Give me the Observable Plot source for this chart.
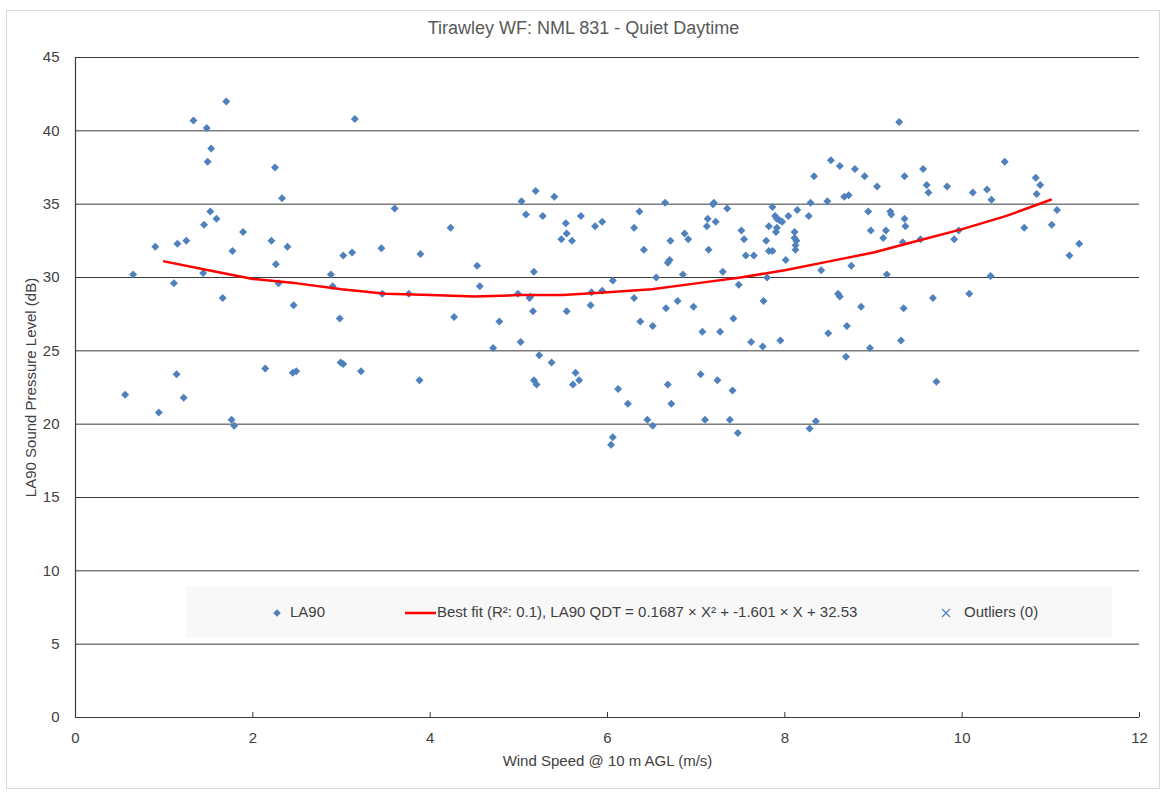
<!DOCTYPE html>
<html>
<head>
<meta charset="utf-8">
<script src="https://cdn.jsdelivr.net/npm/d3@7"></script>
<script src="https://cdn.jsdelivr.net/npm/@observablehq/plot@0.6"></script>
<style>
  body { margin: 0; background: white; font-family: "Liberation Sans", Arial, sans-serif; }
  #wrap { position: relative; width: 1167px; height: 794px; }
  #border { position: absolute; left: 6px; top: 10px; width: 1154px; height: 779px; border: 1px solid #d9d9d9; box-sizing: border-box; pointer-events: none; }
  #title { position: absolute; left: 0; top: 0; width: 1167px; height: 45px; text-align: center; line-height: 56px; font-size: 18px; color: #595959; }
  #chart { position: absolute; left: 0; top: 45px; }
  #legend { position: absolute; left: 186px; top: 586px; width: 926px; height: 52px; background: #f8f8f8; font-size: 15px; color: #404040; }
  .item { position: absolute; top: 0; height: 52px; line-height: 52px; white-space: nowrap; }
  .item svg { vertical-align: middle; }
</style>
</head>
<body>
<div id="wrap">
  <div id="title">Tirawley WF: NML 831 - Quiet Daytime</div>
  <div id="chart"></div>
  <div id="legend">
    <div class="item" style="left:86px"><svg width="10" height="10" style="margin-right:8px"><path d="M5,1.2L8.8,5L5,8.8L1.2,5Z" fill="#4F81BD"/></svg>LA90</div>
    <div class="item" style="left:219px"><svg width="31" height="10" style="margin-right:1px"><line x1="0" y1="5" x2="31" y2="5" stroke="#FF0000" stroke-width="2.5"/></svg>Best fit (R²: 0.1), LA90 QDT = 0.1687 × X² + -1.601 × X + 32.53</div>
    <div class="item" style="left:754px"><svg width="12" height="12" style="margin-right:12px"><path d="M2,2L10,10M10,2L2,10" stroke="#4F81BD" stroke-width="1.2"/></svg>Outliers (0)</div>
  </div>
  <div id="border"></div>
</div>
<script>
// Wind speed (m/s) and LA90 (dB)
const windSpeed = [
  1.70,1.33,1.48,3.15,1.53,1.49,2.25,2.33,3.60,1.52,1.59,1.45,1.89,0.90,1.15,1.25,2.21,2.39,1.77,3.45,
  3.02,3.12,3.89,2.26,0.65,1.44,2.88,1.11,2.29,2.90,3.46,3.76,1.66,2.46,2.98,0.56,0.94,1.14,1.22,2.14,
  2.45,2.49,2.99,3.02,3.22,3.88,1.76,1.79,
  4.23,4.53,4.56,4.27,4.78,4.71,5.03,5.19,5.08,5.40,5.27,5.53,5.54,5.48,5.60,5.70,5.86,5.94,5.17,4.99,
  5.12,5.13,5.16,5.54,5.02,5.23,5.37,5.17,5.20,5.64,5.61,5.68,5.82,5.94,5.81,6.06,6.30,6.36,6.41,6.30,
  6.37,6.51,6.55,6.12,6.23,6.45,6.51,6.06,6.04,6.65,6.71,6.70,6.68,6.66,6.79,6.85,6.87,6.91,6.97,6.68,
  6.72,7.07,7.05,7.13,7.12,7.19,7.20,7.22,7.14,7.35,7.30,7.27,7.24,7.10,7.41,7.38,7.47,7.42,7.48,7.51,
  7.54,7.56,7.65,7.62,7.75,7.76,7.80,7.79,7.82,7.82,7.86,7.86,7.89,7.91,7.94,7.97,7.91,7.90,8.04,8.01,
  7.95,8.11,8.11,8.13,8.12,8.12,8.14,8.29,8.27,8.33,8.28,8.35,
  9.29,8.52,8.62,8.79,8.90,9.04,9.35,9.56,9.60,9.62,9.83,10.12,10.28,10.33,10.48,10.83,10.88,10.84,8.48,8.67,
  8.72,8.94,9.19,9.20,9.35,9.36,8.97,9.14,9.11,9.33,9.53,9.91,9.96,10.70,11.07,11.01,11.32,11.21,8.41,8.75,
  9.15,10.32,8.60,8.62,8.86,9.34,9.67,10.08,8.70,8.49,9.31,8.96,8.69,9.71
];
const la90 = [
  42.0,40.7,40.2,40.8,38.8,37.9,37.5,35.4,34.7,34.5,34.0,33.6,33.1,32.1,32.3,32.5,32.5,32.1,31.8,32.0,
  31.5,31.7,31.6,30.9,30.2,30.3,30.2,29.6,29.6,29.4,28.9,28.9,28.6,28.1,27.2,22.0,20.8,23.4,21.8,23.8,
  23.5,23.6,24.2,24.1,23.6,23.0,20.3,19.9,
  33.4,30.8,29.4,27.3,27.0,25.2,35.2,35.9,34.3,35.5,34.2,33.7,33.0,32.6,32.5,34.2,33.5,33.8,30.4,28.9,
  28.6,28.7,27.7,27.7,25.6,24.7,24.2,23.0,22.7,23.5,22.7,23.0,29.0,29.1,28.1,29.8,33.4,34.5,31.9,28.6,
  27.0,26.7,30.0,22.4,21.4,20.3,19.9,19.1,18.6,35.1,32.5,31.2,31.0,27.9,28.4,30.2,33.0,32.6,28.0,22.7,
  21.4,26.3,23.4,34.0,33.5,35.0,35.1,33.8,31.9,34.7,30.4,26.3,23.0,20.3,22.3,20.3,19.4,27.2,29.5,33.2,
  32.6,31.5,31.5,25.6,25.3,28.4,30.0,32.5,33.5,31.8,31.8,34.8,34.2,34.0,33.9,33.8,33.4,33.1,34.2,31.2,
  25.7,33.1,32.7,32.5,32.2,31.9,34.6,35.1,34.2,36.9,19.7,20.2,
  40.6,38.0,37.6,37.4,36.9,36.2,36.9,37.4,36.3,35.8,36.2,35.8,36.0,35.3,37.9,36.8,36.3,35.7,35.2,35.5,
  35.6,34.5,34.5,34.3,34.0,33.5,33.2,33.2,32.7,32.4,32.6,32.6,33.2,33.4,34.6,33.6,32.3,31.5,30.5,30.8,
  30.2,30.1,28.9,28.7,28.0,27.9,28.6,28.9,26.7,26.2,25.7,25.2,24.6,22.9
];
// Best-fit curve
const fitX = [1,1.5,2,2.5,3,3.5,4,4.5,5,5.5,6,6.5,7,7.5,8,8.5,9,9.5,10,10.5,11];
const fitY = [31.1,30.5,29.9,29.6,29.2,28.9,28.8,28.7,28.8,28.8,29.0,29.2,29.6,30.0,30.5,31.1,31.7,32.5,33.3,34.2,35.3];
const xTicks = [0,2,4,6,8,10,12];
const yTicks = [0,5,10,15,20,25,30,35,40,45];

const points = windSpeed.map((x, i) => ({x, y: la90[i]}));
const fit = fitX.map((x, i) => ({x, y: fitY[i]}));

const chart = Plot.plot({
  width: 1167,
  height: 749,
  marginTop: 12,
  marginLeft: 75,
  marginRight: 28,
  marginBottom: 77,
  style: {fontFamily: "Liberation Sans, Arial, sans-serif", fontSize: "15px", color: "#404040", background: "transparent"},
  x: {domain: [0, 12]},
  y: {domain: [0, 45]},
  marks: [
    Plot.ruleY(yTicks.slice(1), {stroke: "#3a3a3a", strokeWidth: 1}),
    Plot.axisY({ticks: yTicks, tickSize: 0, tickPadding: 16,
      label: "LA90 Sound Pressure Level (dB)", labelAnchor: "center", labelOffset: 50, labelArrow: "none"}),
    Plot.axisX({ticks: xTicks, tickSize: 0, tickPadding: 15,
      label: "Wind Speed @ 10 m AGL (m/s)", labelAnchor: "center", labelOffset: 48, labelArrow: "none"}),
    Plot.axisX({ticks: xTicks, tickSize: 5, dy: -5, tickFormat: () => "", label: null, stroke: "#3a3a3a"}),
    Plot.ruleX([0], {stroke: "#3a3a3a", strokeWidth: 1.2}),
    Plot.ruleY([0], {stroke: "#3a3a3a", strokeWidth: 1.2}),
    Plot.dot(points, {x: "x", y: "y", symbol: "diamond2", r: 3.6, fill: "#4F81BD", stroke: "none"}),
    Plot.line(fit, {x: "x", y: "y", stroke: "#FF0000", strokeWidth: 2.5})
  ]
});
document.getElementById("chart").appendChild(chart);
</script>
</body>
</html>
